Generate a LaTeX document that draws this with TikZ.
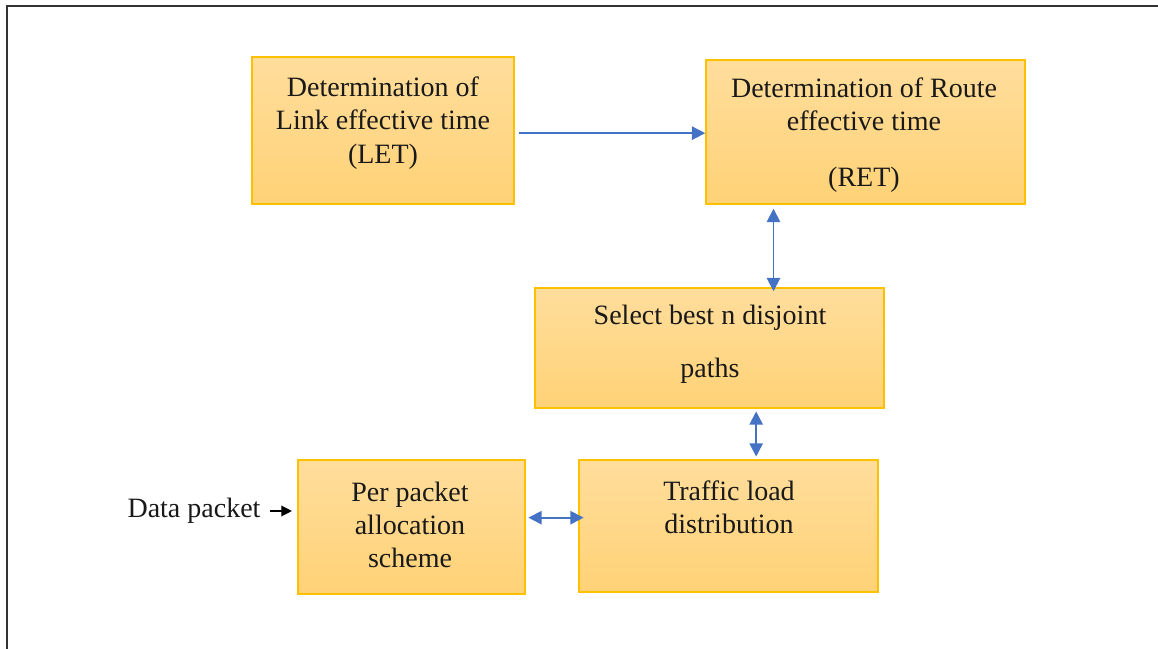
\documentclass[tikz,border=0pt]{standalone}
\usepackage{fontspec}
\setmainfont{Liberation Serif}
\usetikzlibrary{arrows.meta}
\definecolor{boxline}{RGB}{255,192,0}
\definecolor{boxtop}{RGB}{255,221,156}
\definecolor{boxbot}{RGB}{255,210,118}
\definecolor{arrblue}{RGB}{68,114,196}
\tikzset{
  box/.style={draw=boxline, line width=1.1pt, top color=boxtop, bottom color=boxbot, inner sep=0pt},
  txt/.style={align=center, font=\fontsize{21}{25}\selectfont, inner sep=0pt, text=black!90},
  arr/.style={draw=arrblue, line width=1.2pt, -{Triangle[length=10pt,width=10pt]}},
  darr/.style={draw=arrblue, line width=1.4pt, {Triangle[length=10pt,width=10pt]}-{Triangle[length=10pt,width=10pt]}},
  inarr/.style={draw=black, line width=1pt, -{Triangle[length=8pt,width=8pt]}}
}
\begin{document}
\begin{tikzpicture}[x=0.75pt,y=-0.75pt]
\useasboundingbox (0,0) rectangle (1158,649);
% frame
\coordinate (fbl) at (7,649);
\coordinate (ftl) at (7,6);
\coordinate (ftr) at (1158,6);
\draw[black!80, line width=2pt] (fbl) -- (ftl) -- (ftr);
% boxes
\node[box, minimum width=196.5pt, minimum height=110.25pt] (let) at (383,130.5) {};
\node[box, minimum width=239.25pt, minimum height=108pt] (ret) at (865.5,132) {};
\node[box, minimum width=261.75pt, minimum height=90pt] (sel) at (709.5,348) {};
\node[box, minimum width=224.25pt, minimum height=99pt] (traf) at (728.5,526) {};
\node[box, minimum width=170.25pt, minimum height=100.5pt] (per) at (411.5,527) {};
% texts
\node[txt] (lett) at (383,123) {Determination of\\Link effective time\\(LET)};
\node[txt] (rett) at (864,135) {Determination of Route\\effective time\\[17pt](RET)};
\node[txt] (selt) at (710,344) {Select best n disjoint\\[15pt]paths};
\node[txt] (traft) at (729,507) {Traffic load\\distribution};
\node[txt] (pert) at (410,525) {Per packet\\allocation\\scheme};
\node[txt] (dp) at (194,511) {Data packet};
% connectors
\draw[arr] ([xshift=3pt,yshift=-2pt]let.east) -- ([yshift=-2pt]let.east -| ret.west);
\draw[darr] ([xshift=-69pt,yshift=-3pt]ret.south) -- ([xshift=-69pt,yshift=-3pt]ret.south |- sel.north);
\draw[darr] ([xshift=35pt,yshift=-2pt]sel.south) -- ([xshift=35pt,yshift=2pt]sel.south |- traf.north);
\draw[darr] ([xshift=2pt,yshift=7pt]per.east) -- ([xshift=4pt,yshift=7pt]per.east -| traf.west);
\draw[inarr] ([xshift=7pt]dp.east) -- ([xshift=-4pt]dp.east -| per.west);
\end{tikzpicture}
\end{document}
